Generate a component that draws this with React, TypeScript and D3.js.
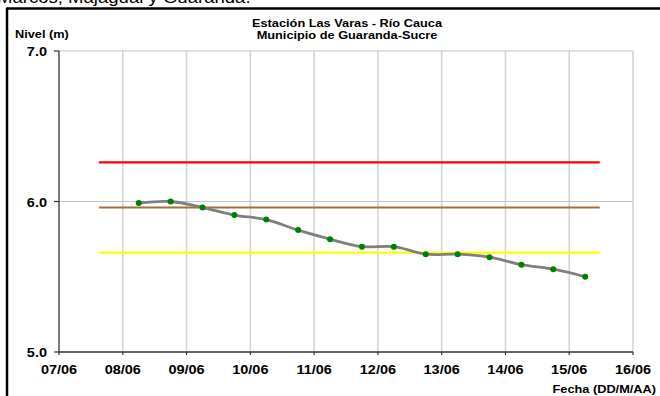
import React from "react";
import * as d3 from "d3";

const fechas = [
  "08/06 06:00", "08/06 18:00", "09/06 06:00", "09/06 18:00", "10/06 06:00",
  "10/06 18:00", "11/06 06:00", "11/06 18:00", "12/06 06:00", "12/06 18:00",
  "13/06 06:00", "13/06 18:00", "14/06 06:00", "14/06 18:00", "15/06 06:00",
];
const niveles = [5.99, 6.0, 5.96, 5.91, 5.88, 5.81, 5.75, 5.7, 5.7, 5.65, 5.65, 5.63, 5.58, 5.55, 5.5];

const xTickLabels = ["07/06", "08/06", "09/06", "10/06", "11/06", "12/06", "13/06", "14/06", "15/06", "16/06"];
const yTicks = [5, 6, 7];

const umbralNombres = ["roja", "naranja", "amarilla"];
const umbralValores = [6.26, 5.96, 5.66];
const umbralColores = ["#ff0000", "#a0703c", "#ffff00"];
const umbralInicio = "07/06 15:00";
const umbralFin = "15/06 11:30";

const titulo = ["Estación Las Varas - Río Cauca", "Municipio de Guaranda-Sucre"];
const textoSuperior = "Marcos, Majagual y Guaranda.";

const parse = d3.timeParse("%d/%m %H:%M");
const dayParse = d3.timeParse("%d/%m");

const FONT = "'Liberation Sans', Arial, sans-serif";
const SX = 1.16;

function T({ x, y, size, anchor = "start", bold = true, children }: any) {
  return (
    <text
      transform={`translate(${x},${y}) scale(${SX},1)`}
      fontFamily={FONT}
      fontSize={size}
      fontWeight={bold ? "bold" : "normal"}
      textAnchor={anchor}
      fill="#000"
    >
      {children}
    </text>
  );
}

export default function App() {
  const W = 660, H = 396;
  const L = 59, R = 633, TOP = 51, BOT = 352;
  const dates = xTickLabels.map((d) => dayParse(d) as Date);
  const x = d3.scaleTime().domain([dates[0], dates[dates.length - 1]]).range([L, R]);
  const y = d3.scaleLinear().domain([5, 7]).range([BOT, TOP]);

  const pts = fechas.map((f, i) => [x(parse(f) as Date), y(niveles[i])] as [number, number]);
  const line = d3.line().curve(d3.curveCardinal.tension(0))(pts) as string;

  const tx0 = x(parse(umbralInicio) as Date);
  const tx1 = x(parse(umbralFin) as Date);

  return (
    <svg width={W} height={H} style={{ position: "absolute", left: 0, top: 0, background: "#fff" }}>
      <rect x={0} y={0} width={W} height={H} fill="#fff" />
      {/* cut-off text from page above */}
      <text transform={`translate(-3,3) scale(${SX},1)`} fontFamily={FONT} fontSize={16} fill="#000">
        {textoSuperior}
      </text>
      {/* frame */}
      <line x1={7} x2={W} y1={8.5} y2={8.5} stroke="#000" strokeWidth={2.5} />
      <line x1={7} x2={7} y1={7.5} y2={H} stroke="#000" strokeWidth={2.5} />

      {/* vertical gridlines */}
      {dates.slice(1).map((d, i) => (
        <line key={"vg" + i} x1={x(d)} x2={x(d)} y1={TOP} y2={BOT} stroke="#d4d4d4" strokeWidth={1.6} />
      ))}
      {/* horizontal gridlines */}
      {yTicks.slice(1).map((v) => (
        <line key={"hg" + v} x1={L} x2={R} y1={y(v)} y2={y(v)} stroke="#c4c4c4" strokeWidth={1.2} />
      ))}

      {/* thresholds */}
      {umbralValores.map((v, i) => (
        <line key={umbralNombres[i]} x1={tx0} x2={tx1} y1={y(v)} y2={y(v)} stroke={umbralColores[i]} strokeWidth={2.2} />
      ))}

      {/* axes */}
      <line x1={L} x2={L} y1={TOP} y2={BOT} stroke="#333" strokeWidth={1.3} />
      <line x1={L} x2={R} y1={BOT} y2={BOT} stroke="#333" strokeWidth={1.3} />
      {yTicks.map((v) => (
        <g key={"yt" + v}>
          <line x1={L - 5} x2={L} y1={y(v)} y2={y(v)} stroke="#333" strokeWidth={1.2} />
          <T x={47} y={y(v) + 5} size={12.5} anchor="end">{d3.format(".1f")(v)}</T>
        </g>
      ))}
      {dates.map((d, i) => (
        <g key={"xt" + i}>
          <line x1={x(d)} x2={x(d)} y1={BOT} y2={BOT + 3} stroke="#333" strokeWidth={1.2} />
          <T x={x(d)} y={374} size={12.5} anchor="middle">{xTickLabels[i]}</T>
        </g>
      ))}

      {/* series */}
      <path d={line} fill="none" stroke="#7f7f7f" strokeWidth={2.8} />
      {pts.map((p, i) => (
        <circle key={"p" + i} cx={p[0]} cy={p[1]} r={3} fill="#008000" />
      ))}

      {/* titles */}
      <T x={347} y={26.5} size={11} anchor="middle">{titulo[0]}</T>
      <T x={347} y={38.5} size={11} anchor="middle">{titulo[1]}</T>
      <T x={15} y={38} size={11} anchor="start">Nivel (m)</T>
      <T x={656} y={393} size={11} anchor="end">Fecha (DD/M/AA)</T>
    </svg>
  );
}
